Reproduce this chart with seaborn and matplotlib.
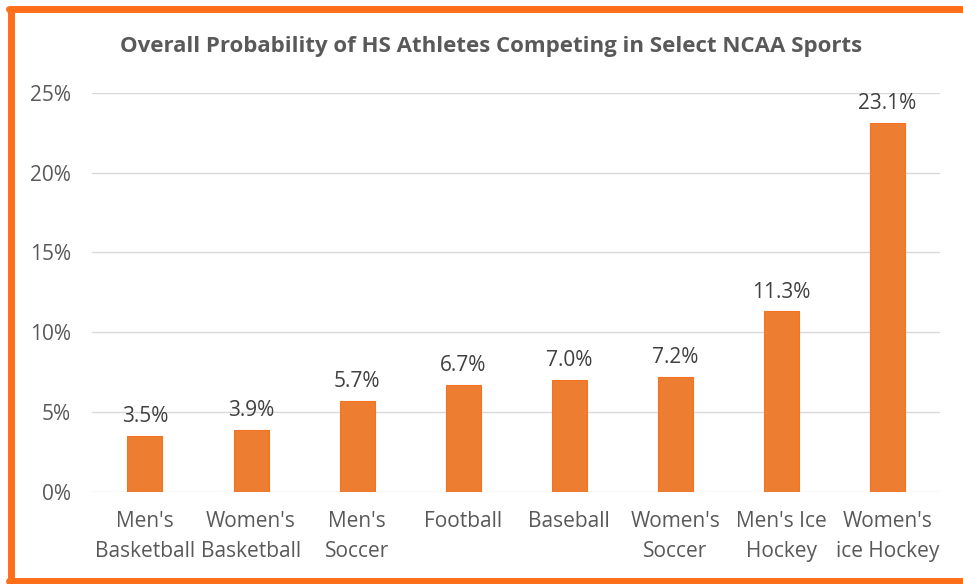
import matplotlib
matplotlib.use("Agg")
import matplotlib.pyplot as plt
import seaborn as sns
import pandas as pd
from matplotlib.lines import Line2D

sports = ["Men's\nBasketball", "Women's\nBasketball", "Men's\nSoccer", "Football",
          "Baseball", "Women's\nSoccer", "Men's Ice\nHockey", "Women's\nice Hockey"]
probability = [3.5, 3.9, 5.7, 6.7, 7.0, 7.2, 11.3, 23.1]
yticks = [0, 5, 10, 15, 20, 25]

df = pd.DataFrame({"sport": sports, "prob": probability})

sns.set_theme(style="white")
plt.rcParams['font.family'] = ['Open Sans', 'DejaVu Sans']
grey = "#595959"

fig = plt.figure(figsize=(9.63, 5.84), dpi=100)
ax = fig.add_axes([0.0955, 0.158, 0.881, 0.683])

sns.barplot(data=df, x="sport", y="prob", color="#ED7D31", saturation=1,
            width=0.33, edgecolor="#F47321", linewidth=0.8, ax=ax)

for i, v in enumerate(probability):
    ax.text(i, v + 0.55, f"{v:.1f}%", ha="center", va="bottom", fontsize=15, color="#404040")

ax.set_ylim(0, 25)
ax.set_yticks(yticks)
ax.set_yticklabels([f"{t}%" for t in yticks])
ax.yaxis.grid(True, color="#D9D9D9", linewidth=1)
ax.set_axisbelow(True)
for s in ax.spines.values():
    s.set_visible(False)
ax.tick_params(axis="both", length=0, labelsize=15, labelcolor=grey)
ax.tick_params(axis="x", pad=14)
ax.tick_params(axis="y", pad=15)
for lab in ax.get_xticklabels():
    lab.set_linespacing(1.55)
ax.set_xlabel("")
ax.set_ylabel("")
ax.set_xlim(-0.5, len(sports) - 0.5)

fig.text(0.51, 0.92, "Overall Probability of HS Athletes Competing in Select NCAA Sports",
         ha="center", va="center", fontsize=16, fontweight="bold", color=grey)

# orange frame around the chart
orange = "#FF6F1A"
fig.add_artist(Line2D([0.011, 0.011], [0.005, 0.985], color=orange, linewidth=5, transform=fig.transFigure))
fig.add_artist(Line2D([0.009, 1.0], [0.985, 0.985], color=orange, linewidth=5, transform=fig.transFigure))
fig.add_artist(Line2D([0.009, 1.0], [0.005, 0.005], color=orange, linewidth=5, transform=fig.transFigure))

fig.savefig("out.png", dpi=100)
